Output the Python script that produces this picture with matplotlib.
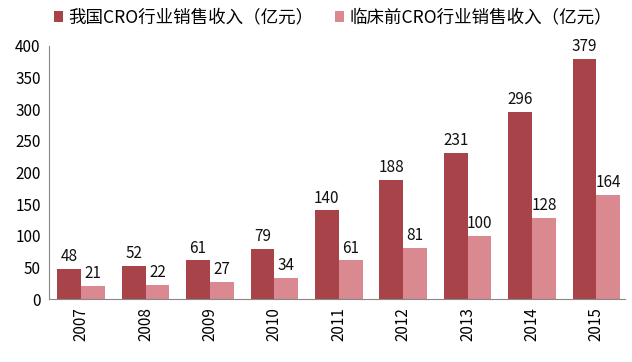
import matplotlib
matplotlib.use("Agg")
import matplotlib.pyplot as plt
import numpy as np

plt.rcParams['font.family'] = ['Noto Sans CJK SC', 'DejaVu Sans']

years = ["2007", "2008", "2009", "2010", "2011", "2012", "2013", "2014", "2015"]
cro_total = [48, 52, 61, 79, 140, 188, 231, 296, 379]
cro_preclinical = [21, 22, 27, 34, 61, 81, 100, 128, 164]
series_names = ["我国CRO行业销售收入（亿元）", "临床前CRO行业销售收入（亿元）"]
yticks = [0, 50, 100, 150, 200, 250, 300, 350, 400]

dark = "#A9434A"
light = "#D9898F"

fig = plt.figure(figsize=(6.32, 3.62), dpi=100)
ax = fig.add_axes([0.0775, 0.174, 0.911, 0.699])

x = np.arange(len(years))
w = 0.37
b1 = ax.bar(x - w / 2, cro_total, w, color=dark, label=series_names[0])
b2 = ax.bar(x + w / 2, cro_preclinical, w, color=light, label=series_names[1])

for rect, v in zip(b1, cro_total):
    ax.text(rect.get_x() + rect.get_width() / 2, v + 6, str(v),
            ha='center', va='bottom', fontsize=11, color='#111111')
for rect, v in zip(b2, cro_preclinical):
    ax.text(rect.get_x() + rect.get_width() / 2, v + 6, str(v),
            ha='center', va='bottom', fontsize=11, color='#111111')

ax.set_xlim(-0.5, 8.44)
ax.set_ylim(0, 400)
ax.set_yticks(yticks)
ax.set_yticklabels([str(t) for t in yticks], fontsize=11)
ax.set_xticks(x)
ax.set_xticklabels(years, rotation=90, fontsize=11)
ax.tick_params(length=0, pad=6)
for s in ['top', 'right']:
    ax.spines[s].set_visible(False)
for s in ['left', 'bottom']:
    ax.spines[s].set_color('#888888')
    ax.spines[s].set_linewidth(0.8)

fig.legend(handles=[b1, b2], labels=series_names, loc='upper left',
           bbox_to_anchor=(0.06, 1.02), ncol=2, frameon=False, fontsize=12.6,
           handlelength=0.55, handleheight=0.55, handletextpad=0.3,
           columnspacing=1.2)

fig.savefig("out.png", dpi=100)
